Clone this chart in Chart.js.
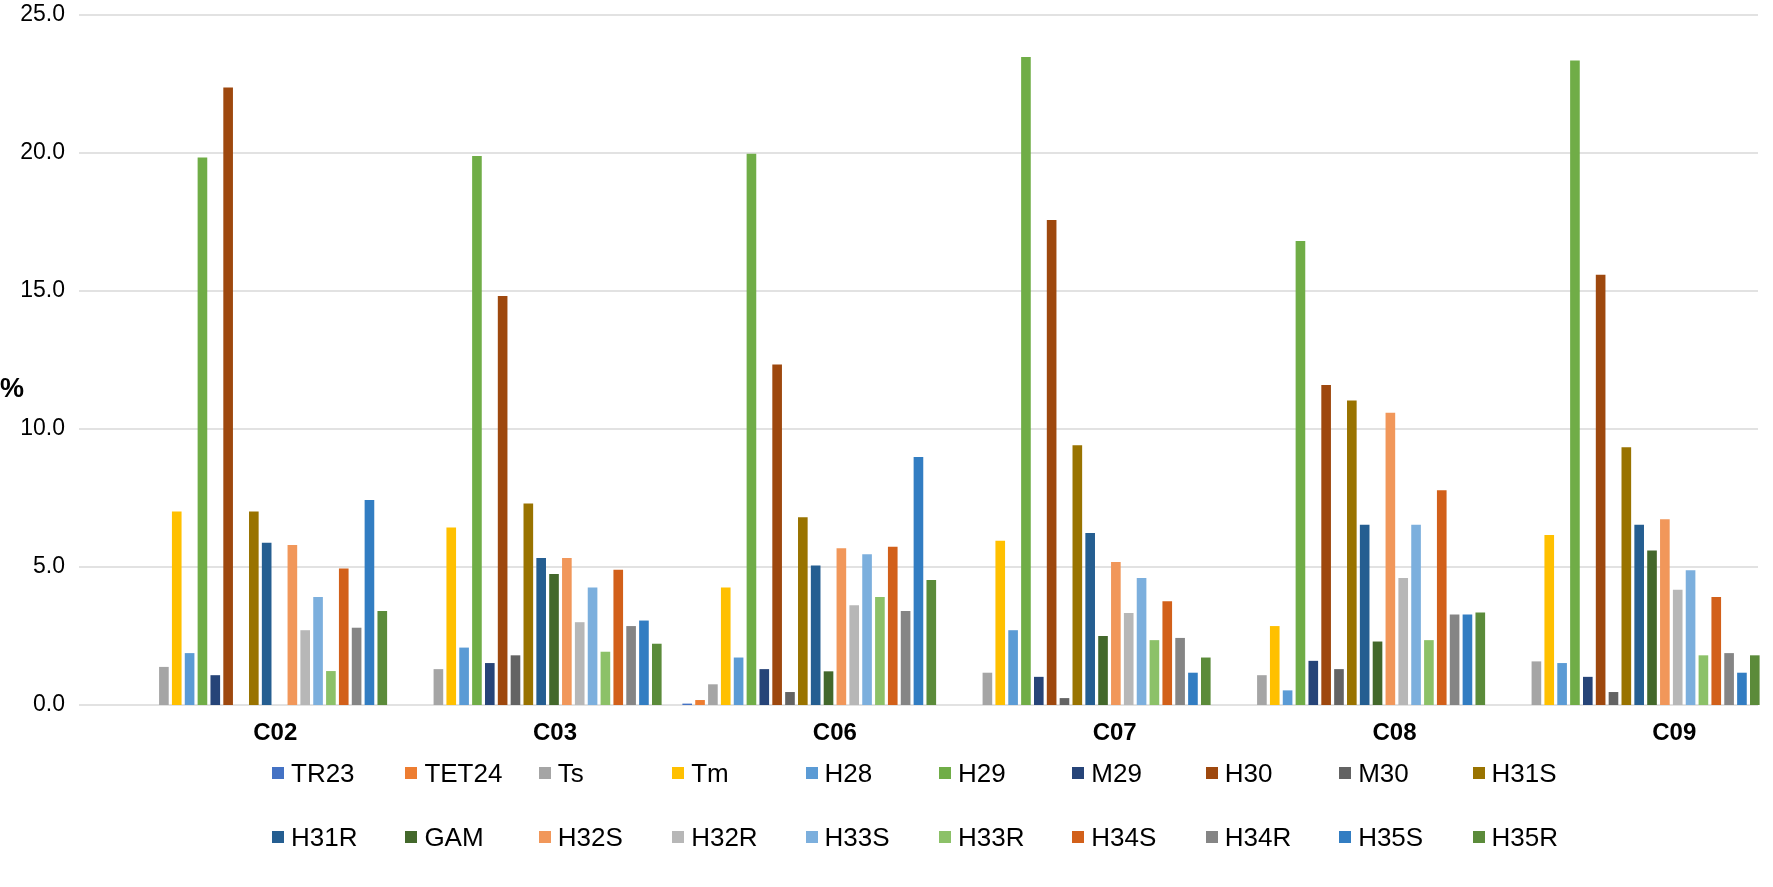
<!DOCTYPE html>
<html>
<head>
<meta charset="utf-8">
<script src="https://cdn.jsdelivr.net/npm/chart.js@4/dist/chart.umd.min.js"></script>
<style>
  body { margin: 0; background: #fff; font-family: "Liberation Sans", Arial, sans-serif; }
  #wrap { position: relative; width: 1773px; height: 887px; }
  #yTitle { position: absolute; left: 0px; top: 373px; font-size: 27px; font-weight: bold; }
  .legendRow { position: absolute; left: 272px; height: 32px; display: flex; }
  .item { width: 133.4px; display: flex; align-items: center; font-size: 26px; color: #000; white-space: nowrap; }
  .box { width: 12px; height: 12px; margin-right: 7px; flex: none; }
</style>
</head>
<body>
<div id="wrap">
  <canvas id="bar-chart" width="1773" height="887"></canvas>
  <div id="yTitle">%</div>
  <div class="legendRow" id="row1" style="top:757px"></div>
  <div class="legendRow" id="row2" style="top:821px"></div>
</div>
<script>
var categories = ["C02", "C03", "C06", "C07", "C08", "C09"];
var seriesNames = ["TR23", "TET24", "Ts", "Tm", "H28", "H29", "M29", "H30", "M30", "H31S",
                   "H31R", "GAM", "H32S", "H32R", "H33S", "H33R", "H34S", "H34R", "H35S", "H35R"];
var seriesColors = ["#4472C4", "#ED7D31", "#A5A5A5", "#FFC000", "#5B9BD5", "#70AD47", "#264478", "#9E480E", "#636363", "#997300",
                    "#255E91", "#43682B", "#F1975A", "#B7B7B7", "#7CAFDD", "#8CC168", "#D2601A", "#858585", "#327DC2", "#5B8B3A"];

var TR23  = [0, 0, 0.05, 0, 0, 0];
var TET24 = [0, 0, 0.18, 0, 0, 0];
var Ts    = [1.38, 1.30, 0.75, 1.17, 1.08, 1.58];
var Tm    = [7.01, 6.43, 4.26, 5.95, 2.86, 6.16];
var H28   = [1.88, 2.08, 1.72, 2.71, 0.53, 1.52];
var H29   = [19.84, 19.89, 19.97, 23.48, 16.81, 23.35];
var M29   = [1.08, 1.52, 1.30, 1.02, 1.60, 1.02];
var H30   = [22.37, 14.82, 12.34, 17.57, 11.59, 15.59];
var M30   = [0, 1.80, 0.47, 0.25, 1.30, 0.47];
var H31S  = [7.01, 7.30, 6.80, 9.41, 11.03, 9.34];
var H31R  = [5.88, 5.33, 5.05, 6.23, 6.53, 6.53];
var GAM   = [0, 4.75, 1.22, 2.50, 2.30, 5.60];
var H32S  = [5.80, 5.33, 5.68, 5.18, 10.59, 6.73];
var H32R  = [2.71, 3.00, 3.61, 3.33, 4.60, 4.18];
var H33S  = [3.91, 4.26, 5.46, 4.60, 6.53, 4.88];
var H33R  = [1.23, 1.93, 3.91, 2.35, 2.35, 1.80];
var H34S  = [4.95, 4.90, 5.73, 3.76, 7.78, 3.91];
var H34R  = [2.80, 2.86, 3.41, 2.43, 3.28, 1.88];
var H35S  = [7.43, 3.06, 8.99, 1.17, 3.28, 1.17];
var H35R  = [3.41, 2.22, 4.53, 1.72, 3.35, 1.80];

var yTicks = [0, 5, 10, 15, 20, 25];

var seriesValues = [TR23, TET24, Ts, Tm, H28, H29, M29, H30, M30, H31S,
                    H31R, GAM, H32S, H32R, H33S, H33R, H34S, H34R, H35S, H35R];

var chartData = {
  labels: categories,
  datasets: seriesNames.map(function (name, i) {
    return {
      label: name,
      data: seriesValues[i],
      backgroundColor: seriesColors[i],
      categoryPercentage: 0.936,
      barPercentage: 0.75
    };
  })
};

// the source's gridlines run a bit wider than the bar area
var wideGrid = {
  id: 'wideGrid',
  beforeDatasetsDraw: function (chart) {
    var ctx = chart.ctx, y = chart.scales.y;
    ctx.save();
    ctx.strokeStyle = '#d9d9d9';
    ctx.lineWidth = 1.5;
    yTicks.forEach(function (v) {
      var py = y.getPixelForValue(v);
      ctx.beginPath();
      ctx.moveTo(79, py);
      ctx.lineTo(1758, py);
      ctx.stroke();
    });
    ctx.restore();
  }
};

new Chart(document.getElementById("bar-chart"), {
  type: 'bar',
  data: chartData,
  plugins: [wideGrid],
  options: {
    responsive: false,
    animation: false,
    layout: { padding: { top: 15, right: 3 } },
    plugins: {
      legend: { display: false },
      tooltip: { enabled: false }
    },
    scales: {
      x: {
        type: 'category',
        offset: true,
        grid: { display: false },
        border: { display: false },
        ticks: { display: false },
        afterFit: function (scale) { scale.height = 0; }
      },
      xLab: {
        type: 'linear',
        position: 'bottom',
        offset: false,
        min: -0.544,
        max: 5.342,
        afterBuildTicks: function (scale) {
          scale.ticks = categories.map(function (c, k) { return { value: k }; });
        },
        grid: { display: false, offset: false },
        border: { display: false },
        ticks: {
          color: '#000',
          padding: 6,
          font: { family: 'Liberation Sans', size: 24, weight: 'bold' },
          callback: function (v) { return categories[v]; }
        },
        afterFit: function (scale) { scale.height = 182; }
      },
      y: {
        min: 0,
        max: 25,
        afterBuildTicks: function (scale) {
          scale.ticks = yTicks.map(function (v) { return { value: v }; });
        },
        grid: { display: false, drawTicks: false },
        border: { display: false },
        ticks: {
          color: '#000',
          padding: 58,
          font: { family: 'Liberation Sans', size: 23 },
          callback: function (v) { return v.toFixed(1); }
        },
        afterFit: function (scale) {
          scale.width = 123;
          scale.paddingTop = 0;
          scale.paddingBottom = 0;
        }
      }
    }
  }
});

// legend in two rows of ten, like the source
seriesNames.forEach(function (name, i) {
  var item = document.createElement('div');
  item.className = 'item';
  var box = document.createElement('span');
  box.className = 'box';
  box.style.background = seriesColors[i];
  item.appendChild(box);
  item.appendChild(document.createTextNode(name));
  document.getElementById(i < 10 ? 'row1' : 'row2').appendChild(item);
});
</script>
</body>
</html>
